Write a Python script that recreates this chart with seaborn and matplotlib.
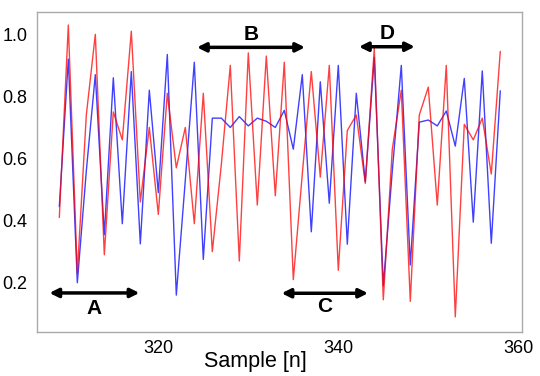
import numpy as np
import pandas as pd
import matplotlib
matplotlib.use("Agg")
import matplotlib.pyplot as plt
import seaborn as sns

samples = list(range(309, 359))
red_vals = [0.41, 1.03, 0.23, 0.74, 1.00, 0.29, 0.75, 0.66, 1.01, 0.46,
            0.70, 0.42, 0.81, 0.57, 0.70, 0.39, 0.81, 0.30, 0.58, 0.90,
            0.27, 0.94, 0.45, 0.93, 0.48, 0.91, 0.21, 0.55, 0.88, 0.54,
            0.90, 0.24, 0.69, 0.74, 0.52, 0.955, 0.145, 0.63, 0.82, 0.14,
            0.74, 0.83, 0.45, 0.90, 0.09, 0.71, 0.66, 0.73, 0.55, 0.945]
blue_vals = [0.445, 0.92, 0.20, 0.56, 0.87, 0.355, 0.86, 0.39, 0.88, 0.325,
             0.82, 0.49, 0.935, 0.16, 0.53, 0.91, 0.275, 0.73, 0.73, 0.70,
             0.735, 0.705, 0.73, 0.72, 0.70, 0.755, 0.63, 0.87, 0.364, 0.847,
             0.456, 0.90, 0.324, 0.81, 0.525, 0.925, 0.19, 0.56, 0.90, 0.257,
             0.717, 0.724, 0.705, 0.753, 0.64, 0.858, 0.395, 0.882, 0.327, 0.818]

region_labels = ["A", "B", "C", "D"]
region_start = [307.9, 324.3, 333.7, 342.3]
region_end = [317.9, 336.3, 343.3, 348.5]
region_y = [0.167, 0.958, 0.166, 0.960]
label_x = [312.9, 330.3, 338.5, 345.4]
label_y = [0.118, 1.001, 0.123, 1.003]

df = pd.DataFrame({"sample": samples, "red": red_vals, "blue": blue_vals})

sns.set_style("white")
plt.rcParams["font.family"] = ["Liberation Sans", "DejaVu Sans"]
plt.rcParams["text.color"] = "black"
plt.rcParams["axes.labelcolor"] = "black"

fig = plt.figure(figsize=(5.4, 3.76), dpi=100)
ax = fig.add_axes([37 / 540, 1 - 331.7 / 376, (521.7 - 37) / 540, (331.7 - 12.3) / 376])

sns.lineplot(data=df, x="sample", y="blue", ax=ax, color="#0000ff", alpha=0.75, lw=1.0)
sns.lineplot(data=df, x="sample", y="red", ax=ax, color="#ff0000", alpha=0.75, lw=1.0)

for lab, x0, x1, yy, lx, ly in zip(region_labels, region_start, region_end, region_y, label_x, label_y):
    ax.annotate("", xy=(x0, yy), xytext=(x1, yy),
                arrowprops=dict(arrowstyle="<|-|>", lw=2.5, color="black",
                                mutation_scale=13, shrinkA=0, shrinkB=0))
    ax.text(lx, ly, lab, fontsize=15, fontweight="bold", ha="center", va="center", color="black")

ax.set_xlim(306.52, 360.38)
ax.set_ylim(0.0422, 1.0709)
ax.set_xticks([320, 340, 360])
ax.set_xticks([310, 330, 350], minor=True)
ax.set_yticks([0.2, 0.4, 0.6, 0.8, 1.0])
ax.set_yticklabels(["0.2", "0.4", "0.6", "0.8", "1.0"])
ax.tick_params(axis="x", which="major", length=2, width=0.8, color="#aaaaaa", pad=4,
               labelsize=13, labelcolor="black")
ax.tick_params(axis="x", which="minor", length=2, width=0.8, color="#aaaaaa", direction="out")
ax.tick_params(axis="y", length=0, pad=7, labelsize=13, labelcolor="black")
for s in ax.spines.values():
    s.set_color("#aaaaaa")
    s.set_linewidth(1.0)
    s.set_visible(True)

ax.set_ylabel("")
ax.set_xlabel("Sample [n]", fontsize=15.5, color="black")
ax.xaxis.set_label_coords((255 - 37) / 484.7, -(362 - 331.7) / 319.4)
ax.xaxis.label.set_va("center")

fig.savefig("out.png", dpi=100)
